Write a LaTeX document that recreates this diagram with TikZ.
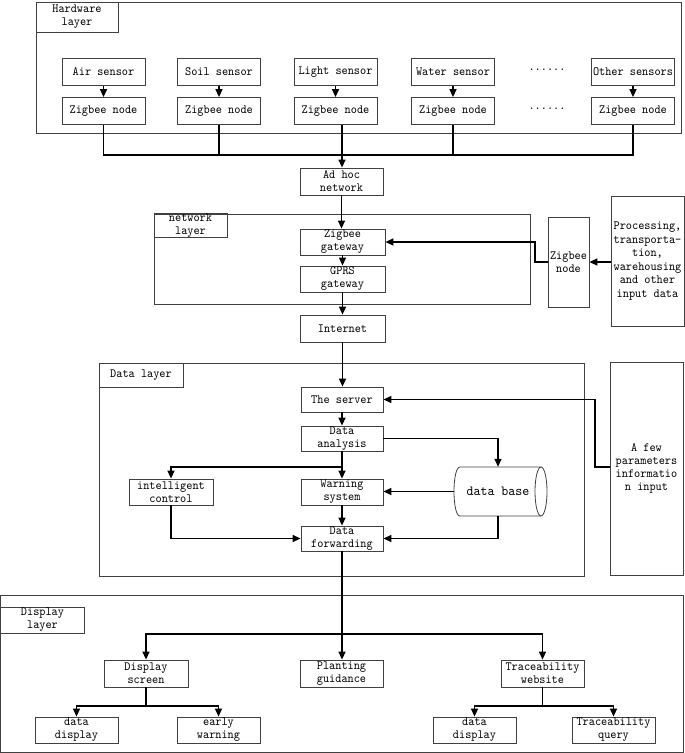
\documentclass[tikz,border=0pt]{standalone}
\usepackage{fontspec}
\setmainfont{lmmono10-regular.otf}[FakeStretch=0.93]
\newfontfamily\dbfont{lmmono10-regular.otf}[FakeStretch=0.95]
\usetikzlibrary{arrows.meta}
\begin{document}
\begin{tikzpicture}[x=1pt,y=-1pt,
  box/.style={draw=black!75,line width=0.8pt,inner sep=0pt,align=center,
    font=\fontsize{12.6}{13}\selectfont,minimum width=83pt,minimum height=27pt},
  frame/.style={draw=black!75,line width=0.9pt,inner sep=0pt},
  lab/.style={draw=black!75,line width=0.8pt,inner sep=0pt,align=center,
    font=\fontsize{12.6}{13}\selectfont},
  conn/.style={line width=1.4pt,black},
  arr/.style={conn,-{Triangle[length=8pt,width=7pt]}},
  dots/.style={inner sep=0pt,font=\bfseries\fontsize{12.6}{13}\selectfont}
]
\useasboundingbox (0,0) rectangle (685,753);

% ---------- Hardware layer ----------
\node[frame,minimum width=645pt,minimum height=131pt] (hw) at (358.5,67.5) {};
\node[lab,minimum width=82pt,minimum height=30pt] (hwl) at (77,17) {Hardware\\layer};
\foreach \n/\x/\t in {a/103.5/Air sensor,b/219/Soil sensor,c/335.5/Light sensor,d/453/Water sensor,e/633/Other sensors}{
  \node[box] (s\n) at (\x,72) {\t};
  \node[box] (z\n) at (\x,111) {Zigbee node};
  \draw[arr] (s\n.south) -- (z\n.north);
}
\node[dots] (dt1) at (547,70) {......};
\node[dots] (dt2) at (547,109) {......};

\node[box] (adhoc) at (341.5,181.5) {Ad hoc\\network};
\coordinate (bl) at (103.5,155);
\coordinate (br) at (633,155);
\draw[conn] (za.south) |- (bl) -- (br) -| (ze.south);
\draw[conn] (zb.south) -- (zb.south |- bl);
\draw[conn] (zd.south) -- (zd.south |- bl);
\draw[arr] (342,124.5) -- (adhoc.north -| 342,0);

% ---------- Network layer ----------
\node[frame,minimum width=376pt,minimum height=90pt] (nw) at (342,259) {};
\node[lab,minimum width=73pt,minimum height=23pt] (nwl) at (190.5,225.5) {network\\layer};
\node[box,minimum width=85pt,minimum height=26pt] (zgw) at (342.5,242) {Zigbee\\gateway};
\node[box,minimum width=85pt,minimum height=26pt] (gprs) at (342.5,279) {GPRS\\gateway};
\node[box,minimum width=85pt,minimum height=27pt] (inet) at (342.5,328.5) {Internet};
\node[box,minimum width=41pt,minimum height=90pt] (zn) at (568.5,262) {Zigbee\\node};
\node[box,minimum width=73pt,minimum height=130pt,font=\fontsize{12.6}{13.6}\selectfont] (proc) at (647.5,261) {Processing,\\transporta-\\tion,\\warehousing\\and other\\input data};

\draw[arr] (adhoc.south) -- (zgw.north -| adhoc.south);
\draw[arr] (zgw.south) -- (gprs.north);
\draw[arr] (gprs.south) -- (inet.north);
\draw[arr] (proc.west |- zn.east) -- (zn.east);
\coordinate (zk) at (535,262);
\draw[arr] (zn.west) -- (zk) |- (zgw.east);

% ---------- Data layer ----------
\node[frame,minimum width=485pt,minimum height=213pt] (dl) at (341.5,469.5) {};
\node[lab,minimum width=84pt,minimum height=24pt] (dll) at (141,375) {Data layer};
\node[box,minimum width=82pt,minimum height=25pt] (srv) at (342,399.5) {The server};
\node[box,minimum width=82pt,minimum height=25pt] (ana) at (342,438.5) {Data\\analysis};
\node[box,minimum width=84pt,minimum height=26pt] (ic) at (171,492) {intelligent\\control};
\node[box,minimum width=82pt,minimum height=26pt] (warn) at (342,492) {Warning\\system};
\node[box,minimum width=82pt,minimum height=25pt] (df) at (342,538.5) {Data\\forwarding};
\node[box,minimum width=73pt,minimum height=213pt] (par) at (646.5,468.5) {A few\\parameters\\informatio\\n input};

% data base cylinder
\draw[draw=black!75,line width=0.8pt] (460,467) -- (541,467)
  (460,516) -- (541,516)
  (460,467) .. controls (452,467) and (452,516) .. (460,516);
\draw[draw=black!75,line width=0.8pt] (541,491.5) ellipse [x radius=6pt,y radius=24.5pt];
\node[inner sep=0pt,minimum width=88pt,minimum height=49pt,font=\dbfont\fontsize{14}{15}\selectfont] (db) at (498,491.5) {data base};

\draw[arr] (inet.south) -- (srv.north -| inet.south);
\draw[arr] (srv.south) -- (ana.north);
\draw[arr] (ana.south) -- (warn.north);
\coordinate (jn) at (342,467);
\draw[arr] (jn) -| (ic.north);
\draw[arr] (ana.east) -| (db.north);
\draw[arr] (db.west) -- (warn.east |- db.west);
\draw[arr] (warn.south) -- (df.north);
\draw[arr] (db.south) |- (df.east);
\draw[arr] (ic.south) |- (df.west);
\coordinate (pk) at (595,467);
\draw[arr] (par.west |- pk) -- (pk) |- (srv.east);

% ---------- Display layer ----------
\node[frame,minimum width=683pt,minimum height=157pt] (dsl) at (342,673.5) {};
\node[lab,minimum width=84pt,minimum height=26pt] (dsll) at (42.5,620) {Display\\layer};
\node[box,minimum width=84pt] (ds) at (146,673.5) {Display\\screen};
\node[box] (pg) at (341.5,673.5) {Planting\\guidance};
\node[box] (tw) at (542.5,673.5) {Traceability\\website};
\node[box,minimum height=26pt] (dd1) at (76.5,730) {data\\display};
\node[box,minimum height=26pt] (ew) at (218.5,730) {early\\warning};
\node[box,minimum height=26pt] (dd2) at (474.5,730) {data\\display};
\node[box,minimum height=26pt] (tq) at (613.5,730) {Traceability\\query};

\draw[arr] (df.south) -- (pg.north -| df.south);
\coordinate (dj) at (342,634);
\draw[arr] (dj) -| (ds.north);
\draw[arr] (dj) -| (tw.north);
\coordinate (dsj) at (146,706);
\draw[conn] (ds.south) -- (dsj);
\draw[arr] (dsj) -| (dd1.north);
\draw[arr] (dsj) -| (ew.north);
\coordinate (twj) at (542.5,706);
\draw[conn] (tw.south) -- (twj);
\draw[arr] (twj) -| (dd2.north);
\draw[arr] (twj) -| (tq.north);
\end{tikzpicture}
\end{document}
